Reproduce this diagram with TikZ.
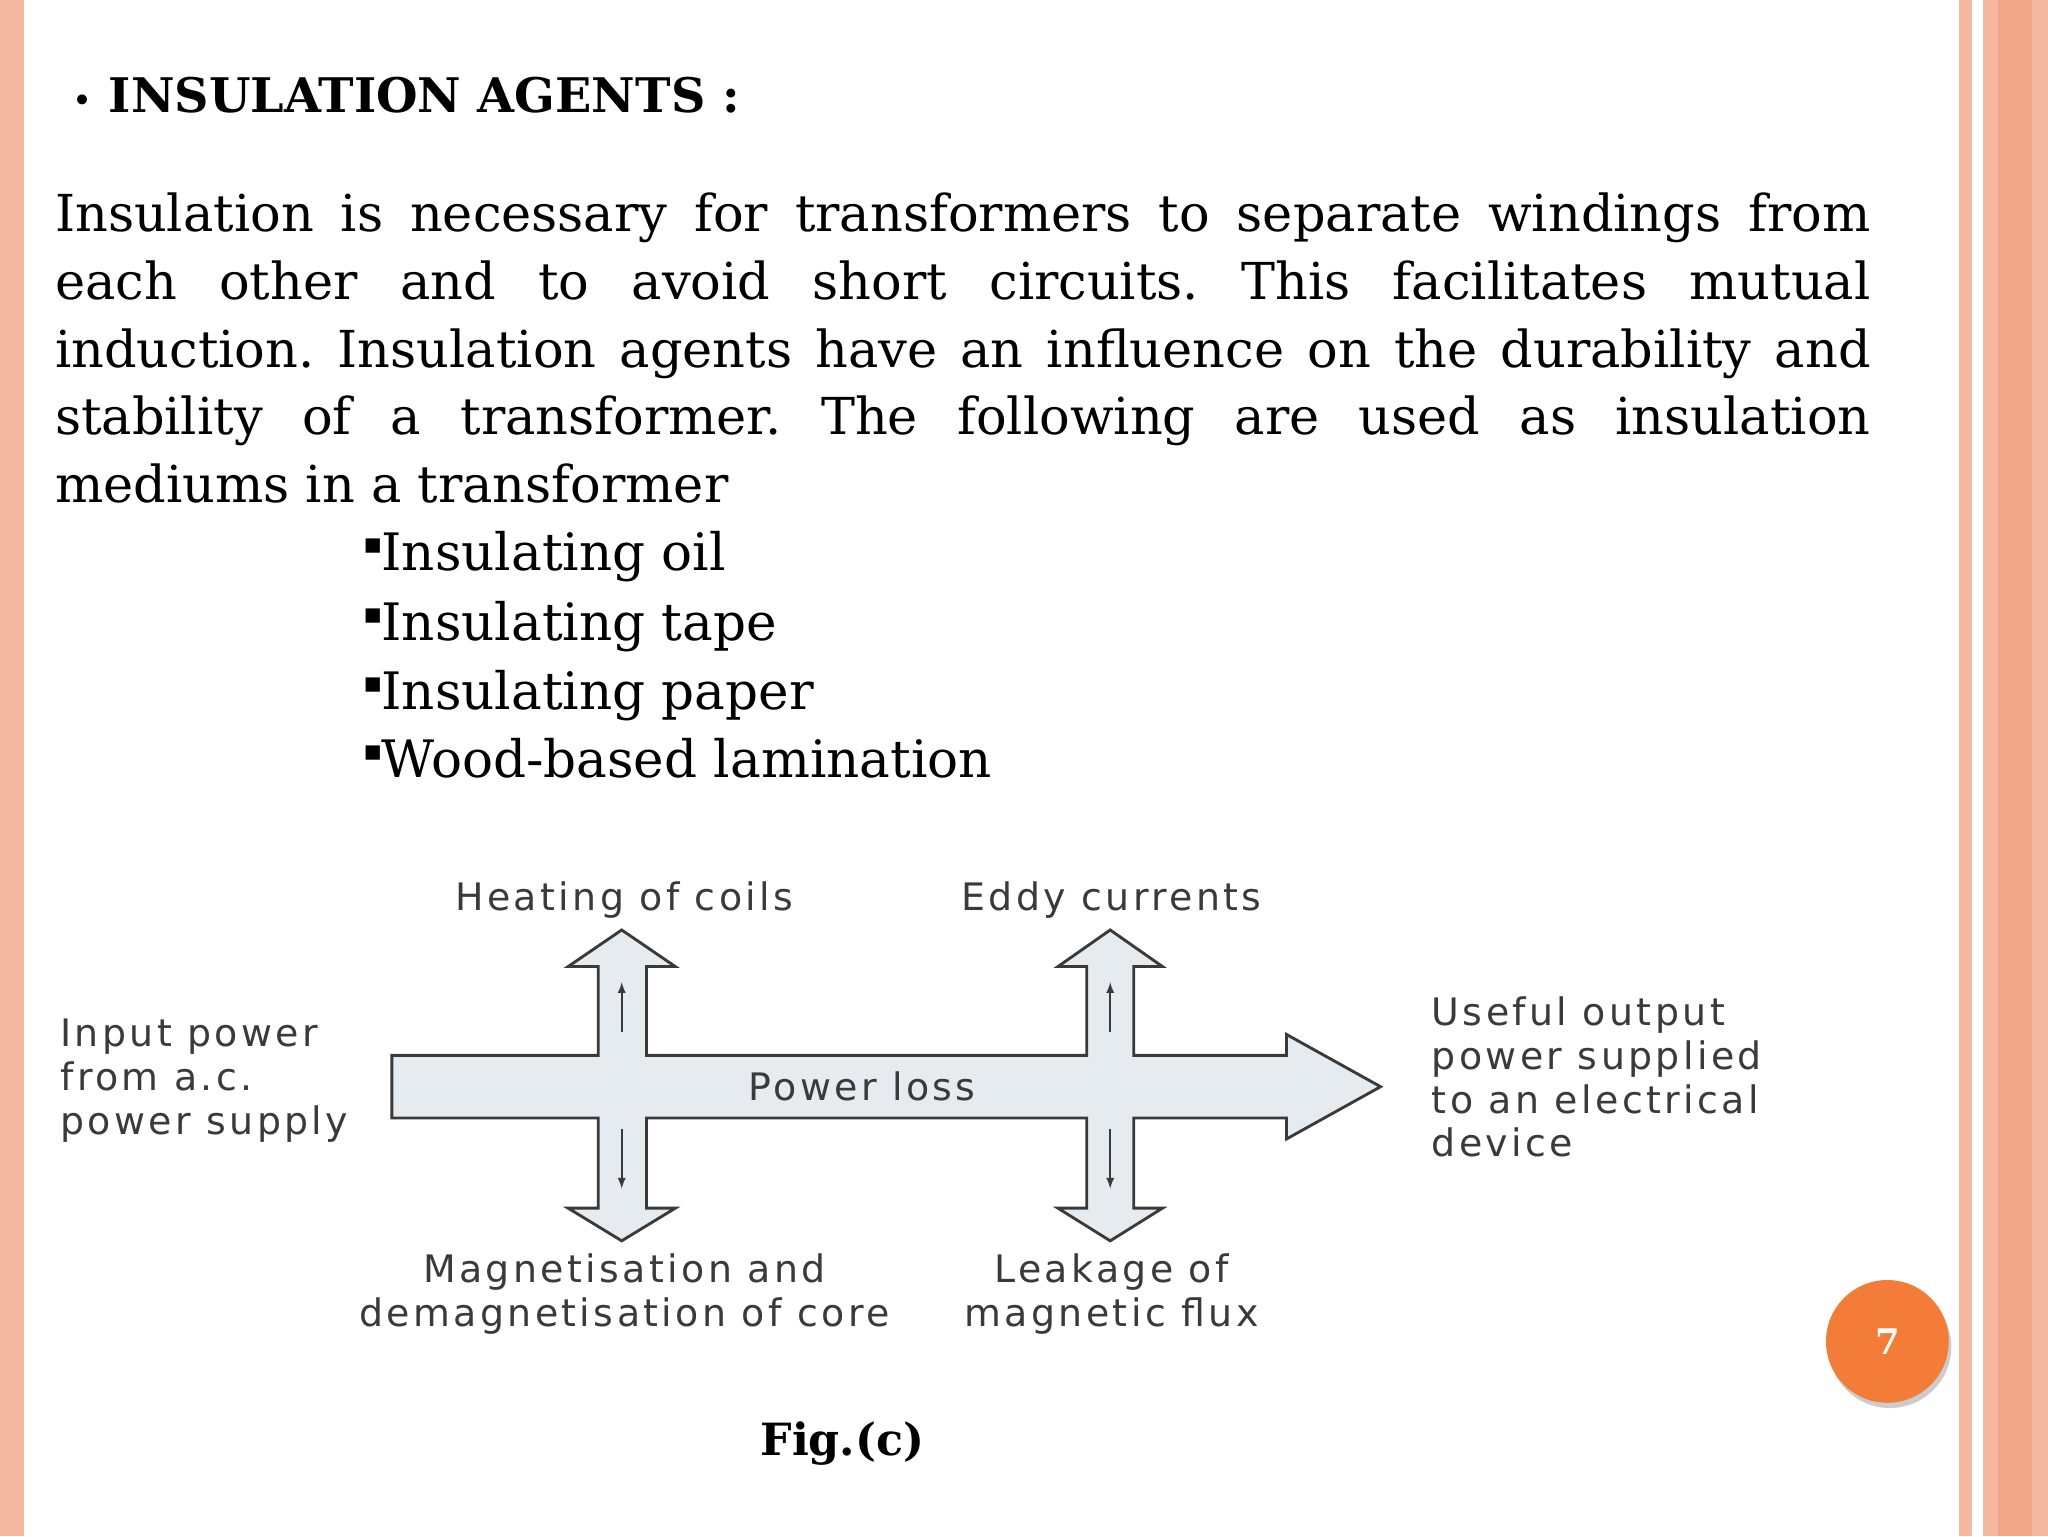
\documentclass[tikz,border=0pt]{standalone}
\usepackage{fontspec}
\setmainfont{DejaVu Serif}
\newfontfamily\diag[LetterSpace=9]{DejaVu Sans}
\newfontfamily\symf{DejaVu Sans}
\definecolor{peach}{HTML}{F5B9A2}
\definecolor{peachd}{HTML}{F2A888}
\definecolor{orng}{HTML}{F27C38}
\definecolor{arrfill}{HTML}{E6EBF0}
\definecolor{dtxt}{HTML}{3A3A3A}
\tikzset{
  body/.style={font=\fontsize{39}{52}\selectfont, anchor=base west, inner sep=0},
  lbl/.style={font=\diag\fontsize{29}{33.5}\selectfont, text=dtxt, inner sep=0, align=center},
  lbll/.style={lbl, align=left, anchor=north west},
  bul/.style={font=\fontsize{39.5}{52}\selectfont, anchor=base west, inner sep=0}
}
\newcommand{\jline}[1]{\makebox[1390pt][s]{#1}}
\begin{document}
\frenchspacing
\begin{tikzpicture}[x=1pt,y=-1pt]
\useasboundingbox (0,0) rectangle (1568,1176);
\fill[white] (0,0) rectangle (1568,1176);
% borders
\fill[peach] (0,0) rectangle (18,1176);
\fill[peach] (1500,0) rectangle (1510,1176);
\fill[peach] (1518,0) rectangle (1568,1176);
\fill[peachd] (1530,0) rectangle (1556,1176);
% title
\node[anchor=base west, inner sep=0] (title) at (55,86) {{\symf\fontsize{26}{30}\selectfont •}\bfseries\fontsize{36.5}{40}\selectfont\ INSULATION AGENTS :};
% paragraph
\node[body] (l1) at (42,177) {\jline{Insulation is necessary for transformers to separate windings from}};
\node[body] (l2) at (42,229) {\jline{each other and to avoid short circuits. This facilitates mutual}};
\node[body] (l3) at (42,281) {\jline{induction. Insulation agents have an influence on the durability and}};
\node[body] (l4) at (42,333) {\jline{stability of a transformer. The following are used as insulation}};
\node[body] (l5) at (42,385) {mediums in a transformer};
% bullets
\foreach \t/\y [count=\i] in {Insulating oil/437,Insulating tape/490,Insulating paper/543,Wood-based lamination/595}{
  \node[bul] (b\i) at (278,\y) {{\symf\fontsize{22}{26}\selectfont\raisebox{13pt}{▪}}\hspace{-1pt}\t};
}
% diagram cross
\draw[line width=2.2pt, fill=arrfill, draw=dtxt, line join=miter]
 (300,808) -- (458,808) -- (458,740) -- (435,740) -- (476,712) -- (517,740) -- (495,740) -- (495,808)
 -- (832,808) -- (832,740) -- (810,740) -- (850,712) -- (890,740) -- (868,740) -- (868,808)
 -- (985,808) -- (985,792) -- (1057,832) -- (985,872) -- (985,856)
 -- (868,856) -- (868,925) -- (890,925) -- (850,950) -- (810,925) -- (832,925) -- (832,856)
 -- (495,856) -- (495,925) -- (517,925) -- (476,950) -- (435,925) -- (458,925) -- (458,856)
 -- (300,856) -- cycle;
\draw[-latex, line width=1.8pt, dtxt] (476,790) -- (476,752);
\draw[-latex, line width=1.8pt, dtxt] (850,790) -- (850,752);
\draw[-latex, line width=1.8pt, dtxt] (476,864) -- (476,910);
\draw[-latex, line width=1.8pt, dtxt] (850,864) -- (850,910);
% labels
\node[lbl] (heat) at (478,689) {Heating of coils};
\node[lbl] (eddy) at (851,689) {Eddy currents};
\node[lbl] (ploss) at (660,832) {Power loss};
\node[lbll] (inp) at (46,780) {Input power\\from a.c.\\power supply};
\node[lbll] (out) at (1096,763) {Useful output\\power supplied\\to an electrical\\device};
\node[lbl] (mag) at (478,991) {Magnetisation and\\demagnetisation of core};
\node[lbl] (leak) at (851,991) {Leakage of\\magnetic flux};
% caption
\node[font=\bfseries\fontsize{34}{40}\selectfont, inner sep=0] (fig) at (645,1105) {Fig.(c)};
% page number
\fill[gray!40] (1447,1031) circle (47);
\node[circle, fill=orng, minimum size=94pt, inner sep=0, text=white, font=\bfseries\fontsize{27}{30}\selectfont] (pg) at (1445,1027) {7};
\end{tikzpicture}
\end{document}
